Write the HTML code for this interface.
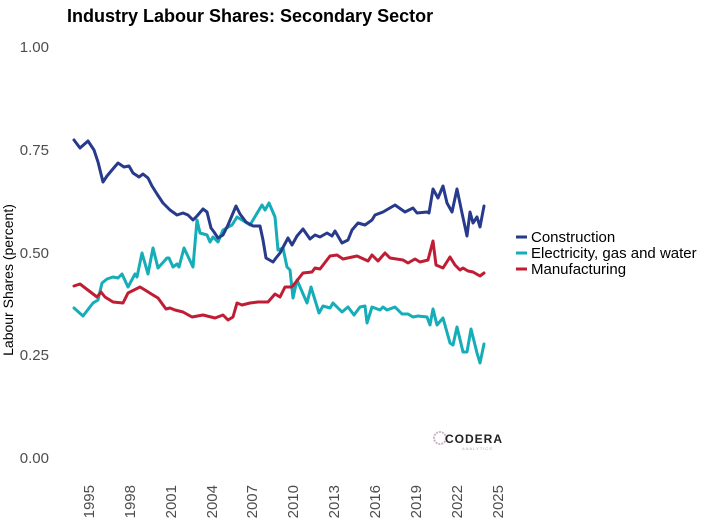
<!DOCTYPE html>
<html><head><meta charset="utf-8"><style>
body{margin:0;background:#fff;}
svg{display:block;font-family:"Liberation Sans",sans-serif;}
</style></head><body>
<svg width="719" height="528" viewBox="0 0 719 528">
<text x="67" y="22" font-size="18" font-weight="bold" fill="#000">Industry Labour Shares: Secondary Sector</text>
<g font-size="15" fill="#4d4d4d" text-anchor="end">
<text x="49" y="52">1.00</text>
<text x="49" y="155">0.75</text>
<text x="49" y="258">0.50</text>
<text x="49" y="360">0.25</text>
<text x="49" y="463">0.00</text>
</g>
<text transform="translate(13,280) rotate(-90)" font-size="14" text-anchor="middle" fill="#000">Labour Shares (percent)</text>
<g font-size="15" fill="#4d4d4d" text-anchor="end">
<text transform="translate(94,485) rotate(-90)">1995</text>
<text transform="translate(135,485) rotate(-90)">1998</text>
<text transform="translate(176,485) rotate(-90)">2001</text>
<text transform="translate(217,485) rotate(-90)">2004</text>
<text transform="translate(257,485) rotate(-90)">2007</text>
<text transform="translate(298,485) rotate(-90)">2010</text>
<text transform="translate(339,485) rotate(-90)">2013</text>
<text transform="translate(380,485) rotate(-90)">2016</text>
<text transform="translate(421,485) rotate(-90)">2019</text>
<text transform="translate(462,485) rotate(-90)">2022</text>
<text transform="translate(503,485) rotate(-90)">2025</text>
</g>
<g fill="none" stroke-width="3" stroke-linejoin="round" stroke-linecap="round">
<polyline stroke="#14adb8" points="74,308 83,316 93,303 98,300 102,283 107,279 113,277 118,278 122,274 128,287 135,274 137,277 142,253 148,274 153,248 158,268 167,258 169,258 173,267 177,264 179,267 184,248 193,267 197,220 200,233 207,235 210,242 213,237 218,242 223,230 232,225 237,217 242,220 250,225 262,205 265,210 269,203 275,217 278,250 283,248 287,267 290,270 293,298 297,280 307,303 311,287 319,313 323,306 330,308 333,303 342,312 348,307 354,315 360,307 365,306 367,323 372,307 380,310 383,307 387,310 395,307 402,314 408,314 413,317 418,316 427,317 430,325 433,309 437,325 443,318 450,343 453,345 457,327 463,352 467,352 471,329 477,353 480,363 484,344"/>
<polyline stroke="#c01d35" points="74,286 80,284 97,297 101,292 105,297 113,302 123,303 128,293 140,287 145,290 153,295 158,298 166,309 170,308 175,310 183,312 192,317 203,315 215,318 223,315 228,320 233,317 237,303 242,305 250,303 258,302 268,302 275,294 280,297 285,287 292,287 303,273 312,272 315,268 320,269 330,256 337,255 343,259 357,256 368,261 372,255 378,261 385,253 390,258 403,260 408,263 415,259 420,262 428,260 433,241 436,265 443,268 450,257 455,265 460,270 463,268 468,271 473,272 480,276 484,273"/>
<polyline stroke="#273a8c" points="74,140 80,148 88,141 94,150 98,162 103,182 107,176 112,170 118,163 124,167 129,166 133,173 139,177 143,174 148,178 152,186 157,194 163,203 170,210 177,215 183,213 188,215 193,220 197,216 203,209 207,212 211,228 214,232 218,238 223,235 228,225 236,206 240,214 246,222 253,226 260,226 263,240 266,258 273,262 276,258 280,253 288,238 292,245 297,236 303,229 310,239 315,235 320,237 327,233 332,236 335,231 342,243 348,240 352,230 358,223 365,225 372,220 375,215 383,212 395,205 405,212 413,208 417,213 427,212 429,213 433,189 438,198 443,186 447,203 452,212 457,189 462,213 467,236 470,212 473,223 477,217 480,227 484,206"/>
</g>
<g font-size="15" fill="#000">
<line x1="516" y1="237" x2="527" y2="237" stroke="#273a8c" stroke-width="3"/>
<text x="531" y="242">Construction</text>
<line x1="516" y1="253" x2="527" y2="253" stroke="#14adb8" stroke-width="3"/>
<text x="531" y="258">Electricity, gas and water</text>
<line x1="516" y1="269" x2="527" y2="269" stroke="#c01d35" stroke-width="3"/>
<text x="531" y="274">Manufacturing</text>
</g>
<circle cx="440" cy="438" r="6" fill="none" stroke="#c9b7c8" stroke-width="2" stroke-dasharray="2 1"/>
<text x="445" y="443" font-size="12" font-weight="bold" fill="#222" letter-spacing="1">CODERA</text>
<text x="462" y="450" font-size="4" fill="#aaa" letter-spacing="1">ANALYTICS</text>
</svg>
</body></html>
